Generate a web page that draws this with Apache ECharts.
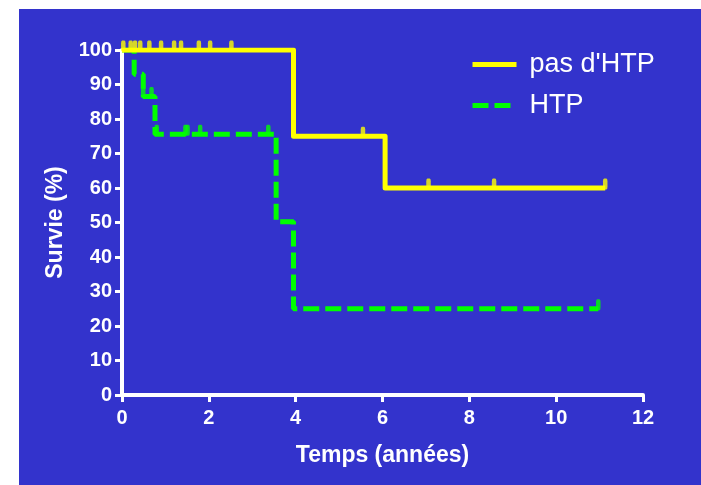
<!DOCTYPE html>
<html>
<head>
<meta charset="utf-8">
<script src="https://cdn.jsdelivr.net/npm/echarts@6/dist/echarts.min.js"></script>
<style>
html,body{margin:0;padding:0;background:#fff;}
#bg{position:absolute;left:19px;top:9px;right:0;bottom:0;background:#3333CC;}
#c{position:absolute;left:0;top:0;width:701px;height:485px;}
</style>
</head>
<body>
<div id="bg"></div>
<div id="c"></div>
<script>
// Kaplan-Meier steps (time in years, survival %)
var noHtpTimes = [0, 3.95, 6.06, 11.13];
var noHtpSurv  = [100, 75, 60, 60];
var htpTimes   = [0, 0.28, 0.49, 0.76, 3.55, 3.95, 10.97];
var htpSurv    = [100, 93, 86.5, 75.6, 50.2, 25, 25];
// censored observations
var noHtpCensT = [0.03, 0.2, 0.3, 0.42, 0.63, 0.9, 1.2, 1.36, 1.77, 2.03, 2.52, 5.55, 7.06, 8.57, 11.13];
var noHtpCensS = [100, 100, 100, 100, 100, 100, 100, 100, 100, 100, 100, 75, 60, 60, 60];
var htpCensT   = [0.49, 0.68, 0.8, 1.46, 1.51, 1.8, 3.37, 10.97];
var htpCensS   = [86.5, 86.5, 75.6, 75.6, 75.6, 75.6, 75.6, 25];
var xTicks = [0, 2, 4, 6, 8, 10, 12];
var yTicks = [0, 10, 20, 30, 40, 50, 60, 70, 80, 90, 100];
var seriesNames = ["pas d'HTP", "HTP"];

function zip(a, b) { return a.map(function (v, i) { return [v, b[i]]; }); }

var chart = echarts.init(document.getElementById('c'), null, {renderer: 'canvas'});
var white = '#ffffff';
var fontFam = '"Liberation Sans", Arial, sans-serif';
chart.setOption({
  backgroundColor: 'transparent',
  animation: false,
  grid: {left: 122, right: 58, top: 50, bottom: 90, containLabel: false},
  legend: {
    orient: 'vertical', left: 465, top: 46, itemGap: 14,
    itemWidth: 44, itemHeight: 14,
    data: seriesNames,
    itemStyle: {opacity: 0},
    lineStyle: {width: 5},
    textStyle: {color: white, fontSize: 27, fontFamily: fontFam, padding: [0, 0, 0, 8]}
  },
  xAxis: {
    type: 'value', min: xTicks[0], max: xTicks[xTicks.length - 1], interval: 2,
    name: 'Temps (années)', nameLocation: 'middle', nameGap: 49,
    nameTextStyle: {color: white, fontSize: 23, fontWeight: 'bold', fontFamily: fontFam},
    axisLine: {show: true, lineStyle: {color: white, width: 4}},
    axisTick: {show: true, length: 7, lineStyle: {color: white, width: 3}},
    axisLabel: {color: white, fontSize: 20, fontWeight: 'bold', fontFamily: fontFam, margin: 13},
    splitLine: {show: false}
  },
  yAxis: {
    type: 'value', min: yTicks[0], max: yTicks[yTicks.length - 1], interval: 10,
    name: 'Survie (%)', nameLocation: 'middle', nameGap: 55,
    nameTextStyle: {color: white, fontSize: 23, fontWeight: 'bold', fontFamily: fontFam},
    axisLine: {show: true, lineStyle: {color: white, width: 4}},
    axisTick: {show: true, length: 7, lineStyle: {color: white, width: 3}},
    axisLabel: {color: white, fontSize: 20, fontWeight: 'bold', fontFamily: fontFam, margin: 10},
    splitLine: {show: false}
  },
  series: [
    {
      name: seriesNames[0], type: 'line', step: 'end', symbol: 'none',
      data: zip(noHtpTimes, noHtpSurv),
      lineStyle: {color: '#FFFF00', width: 5, join: 'round'},
      itemStyle: {color: '#FFFF00'}, z: 3
    },
    {
      name: seriesNames[1], type: 'line', step: 'end', symbol: 'none',
      data: zip(htpTimes, htpSurv),
      lineStyle: {color: '#00FF00', width: 5, type: [16, 6]},
      itemStyle: {color: '#00FF00'}, z: 2
    },
    {
      name: 'censNo', type: 'scatter', symbol: 'roundRect', symbolSize: [4.5, 11], symbolOffset: [0, -4],
      data: zip(noHtpCensT, noHtpCensS), itemStyle: {color: '#FFFF00'}, z: 3, silent: true
    },
    {
      name: 'censHtp', type: 'scatter', symbol: 'roundRect', symbolSize: [4.5, 11], symbolOffset: [0, -4],
      data: zip(htpCensT, htpCensS), itemStyle: {color: '#00FF00'}, z: 2, silent: true
    }
  ]
});
</script>
</body>
</html>
